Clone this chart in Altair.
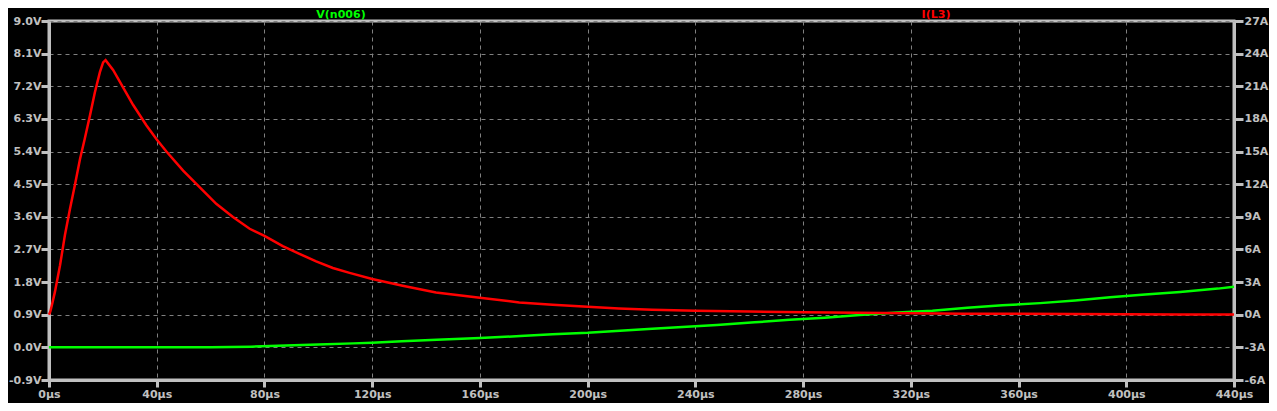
import altair as alt
import pandas as pd

# ---- data ----
t_v = [0, 20, 40, 60, 75, 88, 100, 113, 120, 131, 144, 160, 175, 187, 200, 212, 224,
       240, 248, 262, 275, 288, 301, 315, 328, 341, 354, 368, 381, 394, 407, 420, 434, 440]
v_n006 = [0, 0, 0, 0, 0.02, 0.05, 0.08, 0.11, 0.13, 0.17, 0.21, 0.26, 0.31, 0.36, 0.40, 0.46, 0.51,
          0.58, 0.62, 0.69, 0.76, 0.82, 0.89, 0.96, 1.01, 1.09, 1.16, 1.22, 1.29, 1.38, 1.46, 1.53, 1.62, 1.67]

t_i = [0, 0.5, 1, 2.2, 4.1, 5.9, 7.8, 9.6, 11.5, 13.3, 15.2, 17.0, 18.9, 20.1, 21.0, 23.8, 27.5,
       31.2, 36.2, 40, 43.6, 49.8, 56, 62.1, 68.3, 74.5, 80, 86.8, 93, 99.2, 105.4, 111.6, 120,
       131.3, 143.7, 160, 174.6, 187, 200, 211.6, 224, 240, 260, 280, 300, 320, 340, 360, 380,
       400, 420, 440]
i_l3 = [0, 0.3, 0.8, 2.1, 4.55, 7.3, 9.74, 11.9, 14.3, 16.2, 18.3, 20.4, 22.3, 23.2, 23.4, 22.5, 20.9,
        19.3, 17.4, 16.1, 15.0, 13.25, 11.7, 10.2, 8.98, 7.9, 7.24, 6.3, 5.6, 4.9, 4.3, 3.85, 3.28,
        2.66, 2.04, 1.56, 1.13, 0.92, 0.73, 0.58, 0.46, 0.37, 0.3, 0.23, 0.18, 0.13, 0.1, 0.08, 0.06,
        0.05, 0.03, 0.02]

x_ticks = [0, 40, 80, 120, 160, 200, 240, 280, 320, 360, 400, 440]
v_ticks = [-0.9, 0.0, 0.9, 1.8, 2.7, 3.6, 4.5, 5.4, 6.3, 7.2, 8.1, 9.0]
i_ticks = [-6, -3, 0, 3, 6, 9, 12, 15, 18, 21, 24, 27]

trace_v_name = "V(n006)"
trace_i_name = "I(L3)"

df_v = pd.DataFrame({"t": t_v, "v": v_n006})
df_i = pd.DataFrame({"t": t_i, "i": i_l3})

GREY = "#c0c0c0"
FONT = "DejaVu Sans"

x_enc = alt.X(
    "t:Q",
    scale=alt.Scale(domain=[0, 440], nice=False, zero=False),
    axis=alt.Axis(values=x_ticks, title=None, labelExpr="datum.value + 'µs'",
                  labelFlush=False, labelOverlap=False, labelPadding=1, tickSize=7, grid=True),
)

green = alt.Chart(df_v).mark_line(color="#00ff00", strokeWidth=2.5).encode(
    x=x_enc,
    y=alt.Y("v:Q", scale=alt.Scale(domain=[-0.9, 9.0], nice=False, zero=False),
            axis=alt.Axis(orient="left", values=v_ticks, title=None, grid=True,
                          labelExpr="replace(format(datum.value, '.1f'), '−', '-') + 'V'",
                          labelPadding=0, tickSize=8, labelOverlap=False)),
)

red = alt.Chart(df_i).mark_line(color="#ff0000", strokeWidth=2.5).encode(
    x=x_enc,
    y=alt.Y("i:Q", scale=alt.Scale(domain=[-6, 27], nice=False, zero=False),
            axis=alt.Axis(orient="right", values=i_ticks, title=None, grid=False,
                          labelExpr="replace(format(datum.value, 'd'), '−', '-') + 'A'",
                          labelPadding=1, labelOverlap=False)),
)

lbl_v = alt.Chart(pd.DataFrame({"name": [trace_v_name]})).mark_text(
    color="#00ff00", font=FONT, fontSize=11, fontWeight="bold", baseline="alphabetic", align="center"
).encode(text="name:N", x=alt.value(292), y=alt.value(-3))

lbl_i = alt.Chart(pd.DataFrame({"name": [trace_i_name]})).mark_text(
    color="#ff0000", font=FONT, fontSize=11, fontWeight="bold", baseline="alphabetic", align="center"
).encode(text="name:N", x=alt.value(887), y=alt.value(-3))

chart = alt.layer(green, red, lbl_v, lbl_i).resolve_scale(y="independent").properties(
    width=1185, height=359,
    autosize=alt.AutoSizeParams(type="none"),
    padding={"left": 41, "top": 13, "right": 35, "bottom": 23},
    background="#000000",
).configure_view(
    stroke=GREY, strokeWidth=3
).configure_axis(
    domainColor=GREY, domainWidth=3,
    tickColor=GREY, tickWidth=3, tickSize=9,
    labelColor=GREY, labelFont=FONT, labelFontSize=11, labelFontWeight="bold",
    gridColor="#808080", gridDash=[4, 4], gridWidth=1,
)

chart.save("out.html", embed_options={"renderer": "svg", "actions": False})
